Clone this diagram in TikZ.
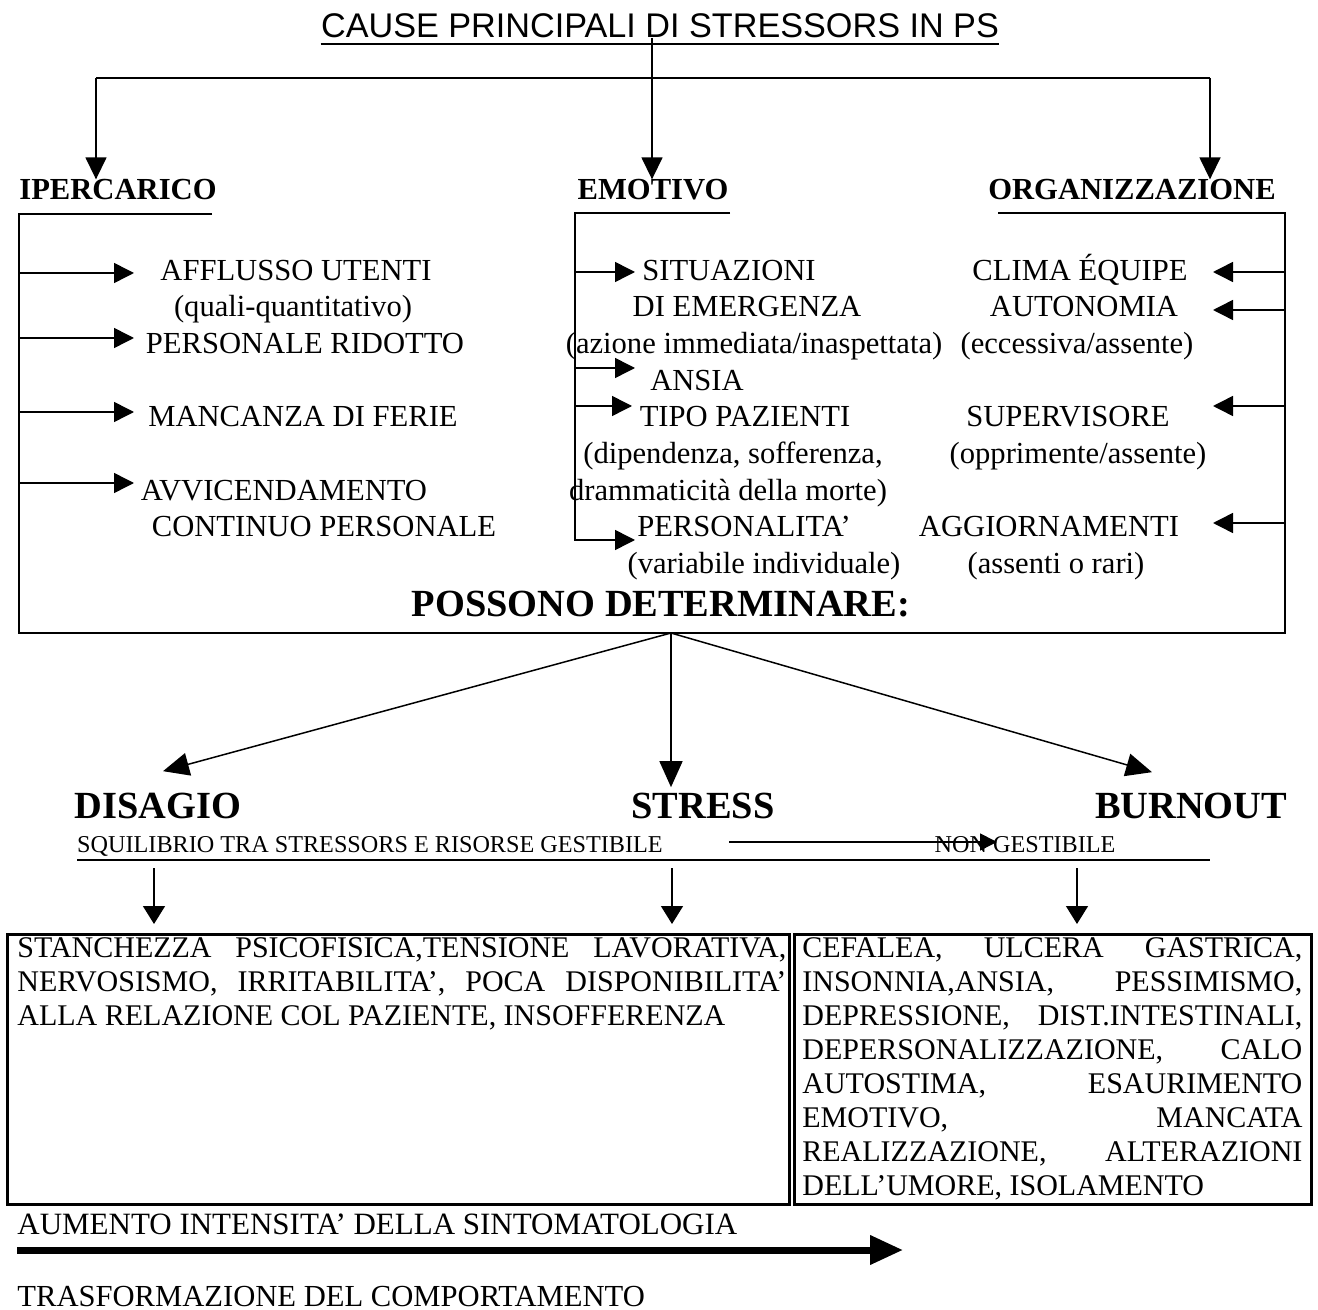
\documentclass[tikz,border=0pt]{standalone}
\usepackage{fontspec}
\setmainfont{Liberation Serif}
\newfontfamily\titlefont{Liberation Sans}
\usetikzlibrary{arrows.meta}

\begin{document}
\begin{tikzpicture}[x=0.5pt, y={(0pt,-0.5pt)},
		txt/.style={font=\fontsize{15.3}{18}\selectfont, inner sep=0pt, anchor=base},
		head/.style={font=\fontsize{15.3}{18}\selectfont\bfseries, inner sep=0pt, anchor=base},
		big/.style={font=\fontsize{19.2}{22}\selectfont\bfseries, inner sep=0pt, anchor=base},
		small/.style={font=\fontsize{12.1}{14}\selectfont, inner sep=0pt, anchor=base},
		boxtxt/.style={font=\fontsize{15}{17}\selectfont, inner sep=0pt, align=left, anchor=north west},
		line/.style={line width=0.75pt},
		arr/.style={line width=0.75pt, -{Triangle[length=10pt, width=10pt]}},
		toparr/.style={line width=0.75pt, -{Triangle[length=11pt, width=10.5pt]}},
		detarr/.style={line width=0.75pt, -{Triangle[length=13pt, width=11.5pt]}},
		downarr/.style={line width=0.75pt, -{Triangle[length=9pt, width=11pt]}},
		smallarr/.style={line width=0.75pt, -{Triangle[length=8.5pt, width=8.5pt]}},
		thickarr/.style={line width=3.5pt, -{Triangle[length=16.5pt, width=14pt]}}]
		\useasboundingbox (0,0) rectangle (1318,1310);

		% Draw the title
		\node[inner sep=0pt, anchor=base, font=\titlefont\fontsize{17.1}{20}\selectfont] (title) at (660,38) {CAUSE PRINCIPALI DI STRESSORS IN PS};
		\draw[line width=1.2pt] ([yshift=-3pt]title.base west) -- ([yshift=-3pt]title.base east);

		% Draw the three causes
		\node[head] (ip) at (118,200) {IPERCARICO};
		\node[head] (emo) at (653,200) {EMOTIVO};
		\node[head] (org) at (1132,200) {ORGANIZZAZIONE};

		\coordinate (split) at (652,78);
		\coordinate (tl) at (96,78);
		\coordinate (tr) at (1210,78);
		\draw[line] (title.base -| split) -- (split);
		\draw[line] (tl) -- (tr);
		\draw[toparr] (split) -- (split |- emo.north);
		\draw[toparr] (tl) -- (tl |- ip.north);
		\draw[toparr] (tr) -- (tr |- org.north);

		% Draw the open frame
		\draw[line] (212,214) -- (19,214) -- (19,633) -- (1285,633) -- (1285,213) -- (998,213);
		\draw[arr] (730,213) -- (575,213) -- (575,540) -- (635,540);

		% Draw the IPERCARICO items
		\node[txt] (affl) at (296,281) {AFFLUSSO UTENTI};
		\node[txt] (quali) at (293,317) {(quali-quantitativo)};
		\node[txt] (pers) at (305,354) {PERSONALE RIDOTTO};
		\node[txt] (ferie) at (303,427) {MANCANZA DI FERIE};
		\node[txt] (avvic) at (284,501) {AVVICENDAMENTO};
		\node[txt] (cont) at (324,537) {CONTINUO PERSONALE};

		\draw[arr] (19,273) -- (134,273);
		\draw[arr] (19,338) -- (134,338);
		\draw[arr] (19,412) -- (134,412);
		\draw[arr] (19,483) -- (134,483);

		% Draw the EMOTIVO items
		\node[txt] (situ) at (729,281) {SITUAZIONI};
		\node[txt] (emerg) at (747,317) {DI EMERGENZA};
		\node[txt] (azione) at (754,354) {(azione immediata/inaspettata)};
		\node[txt] (ansia) at (697,391) {ANSIA};
		\node[txt] (tipo) at (745,427) {TIPO PAZIENTI};
		\node[txt] (dip) at (733,464) {(dipendenza, sofferenza,};
		\node[txt] (dramm) at (728,501) {drammaticità della morte)};
		\node[txt] (perso) at (744,537) {PERSONALITA'};
		\node[txt] (varia) at (764,574) {(variabile individuale)};

		\draw[arr] (575,272) -- (635,272);
		\draw[arr] (575,368) -- (635,368);
		\draw[arr] (575,406) -- (632,406);

		% Draw the ORGANIZZAZIONE items
		\node[txt] (clima) at (1080,281) {CLIMA ÉQUIPE};
		\node[txt] (auton) at (1084,317) {AUTONOMIA};
		\node[txt] (ecc) at (1077,354) {(eccessiva/assente)};
		\node[txt] (superv) at (1068,427) {SUPERVISORE};
		\node[txt] (oppr) at (1078,464) {(opprimente/assente)};
		\node[txt] (aggio) at (1049,537) {AGGIORNAMENTI};
		\node[txt] (rari) at (1056,574) {(assenti o rari)};

		\draw[arr] (1285,272) -- (1213,272);
		\draw[arr] (1285,310) -- (1213,310);
		\draw[arr] (1285,406) -- (1213,406);
		\draw[arr] (1285,523) -- (1213,523);

		% Draw the consequences
		\node[big] (poss) at (661,617) {POSSONO DETERMINARE:};
		\node[big] (dis) at (158,818) {DISAGIO};
		\node[big] (stress) at (703,818) {STRESS};
		\node[big] (burn) at (1191,818) {BURNOUT};

		\coordinate (det) at (671,633);
		\draw[detarr] (det) -- ([xshift=2.5pt, yshift=10.5pt]dis.north);
		\draw[detarr] (det) -- ([yshift=2.5pt]det |- stress.north);
		\draw[detarr] (det) -- ([xshift=-19.5pt, yshift=10pt]burn.north);

		\node[small] (squi) at (370,852) {SQUILIBRIO TRA STRESSORS E RISORSE GESTIBILE};
		\node[small] (nong) at (1025,852) {NON GESTIBILE};
		\coordinate (gs) at (729,842);
		\draw[smallarr] (gs) -- ++(268,0);
		\draw[line width=1.2pt] (77,860) -- (1210,860);

		% Draw the symptom boxes
		\draw[line width=1.5pt] (7,934) rectangle (789,1204);
		\draw[line width=1.5pt] (794,934) rectangle (1311,1204);

		\draw[downarr] (154,868) -- (154,924);
		\draw[downarr] (672,868) -- (672,924);
		\draw[downarr] (1077,868) -- (1077,924);

		\node[boxtxt] (sint) at (17,937)
			{\makebox[384.5pt][s]{STANCHEZZA PSICOFISICA,TENSIONE LAVORATIVA,}\\
			\makebox[384.5pt][s]{NERVOSISMO, IRRITABILITA', POCA DISPONIBILITA'}\\
			ALLA RELAZIONE COL PAZIENTE, INSOFFERENZA};
		\node[boxtxt] (burnsint) at (802,937)
			{\makebox[250pt][s]{CEFALEA, ULCERA GASTRICA,}\\
			\makebox[250pt][s]{INSONNIA,ANSIA, PESSIMISMO,}\\
			\makebox[250pt][s]{DEPRESSIONE, DIST.INTESTINALI,}\\
			\makebox[250pt][s]{DEPERSONALIZZAZIONE, CALO}\\
			\makebox[250pt][s]{AUTOSTIMA, ESAURIMENTO}\\
			\makebox[250pt][s]{EMOTIVO, MANCATA}\\
			\makebox[250pt][s]{REALIZZAZIONE, ALTERAZIONI}\\
			DELL'UMORE, ISOLAMENTO};

		% Draw the intensity arrow
		\node[txt, font=\fontsize{15.5}{18}\selectfont, anchor=base west] (aum) at (17,1234) {AUMENTO INTENSITA' DELLA SINTOMATOLOGIA};
		\draw[thickarr] ([yshift=-8pt]aum.base west) -- ++(886,0);
		\node[txt, anchor=base west] (trasf) at (17,1306) {TRASFORMAZIONE DEL COMPORTAMENTO};

	\end{tikzpicture}
\end{document}
